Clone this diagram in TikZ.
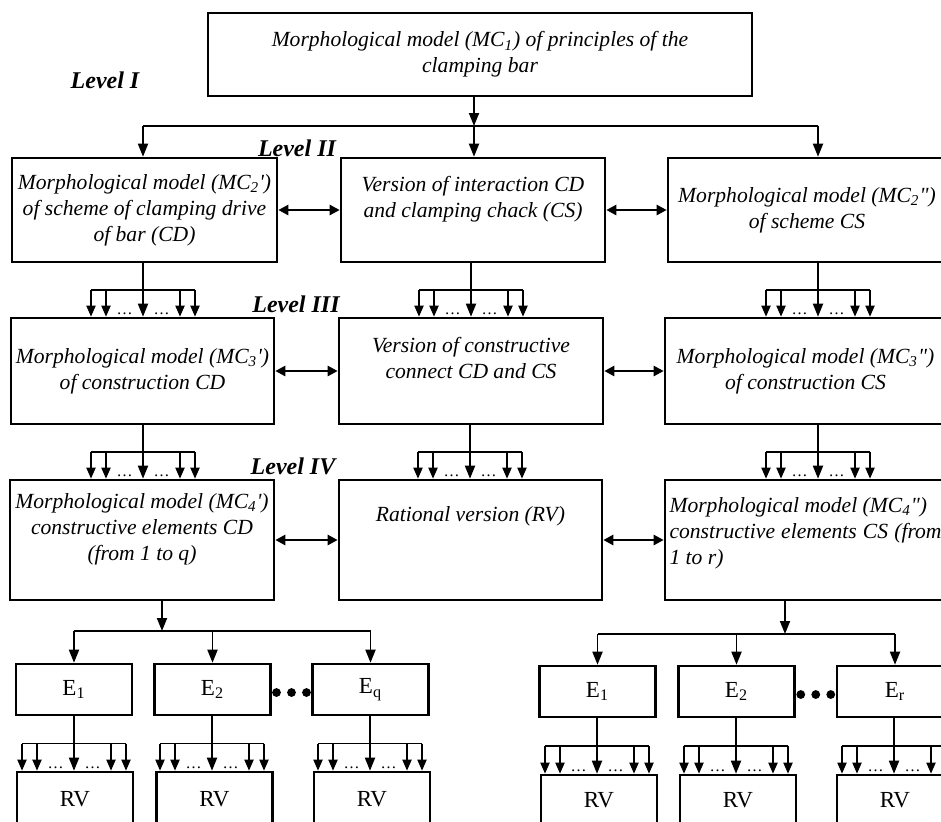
\documentclass[tikz,border=0pt]{standalone}
\usepackage{fontspec}
\setmainfont{Liberation Serif}
\usetikzlibrary{arrows.meta,calc}
\tikzset{
  mdl/.style  ={draw, rectangle, line width=1.3pt, align=center, inner sep=1.5pt, font=\fontsize{10.8}{13}\selectfont\itshape},
  elm/.style  ={draw, rectangle, line width=1.3pt, minimum width=58pt, inner sep=1pt, font=\fontsize{11.5}{13}\selectfont},
  lvl/.style  ={inner sep=0pt, font=\fontsize{12}{14}\selectfont\bfseries\itshape},
  ln/.style   ={line width=0.9pt},
  arr/.style  ={-{Triangle[length=6.5pt,width=5pt]}, line width=0.9pt},
  farr/.style ={-{Triangle[length=5.5pt,width=4.5pt]}, line width=0.9pt},
  dbl/.style  ={{Triangle[length=5pt,width=5pt]}-{Triangle[length=5pt,width=5pt]}, line width=1.2pt},
  dts/.style  ={inner sep=0pt, anchor=south, font=\fontsize{8}{8}\selectfont},
}
\newcommand{\sq}{\textquotesingle}
\newcommand{\dq}{\textquotedbl}

\begin{document}
\begin{tikzpicture}[x=0.5pt, y=-0.5pt]
  \useasboundingbox (0,0) rectangle (941,821);
  \clip (0,0) rectangle (941,821);
  \coordinate (cl) at (143,0);
  \coordinate (cm) at (471,0);
  \coordinate (cr) at (818,0);

  % level I
  \node[mdl, minimum width=272pt, minimum height=41.5pt] (top) at (480,54.5) {Morphological model (MC\textsubscript{1}) of principles of the\\clamping bar};
  \node[lvl] (lv1) at (105,80) {Level I};

  % level II
  \node[mdl, minimum width=132.5pt, minimum height=52pt] (l2l) at (144.5,210) {Morphological model (MC\textsubscript{2}\sq)\\of scheme of clamping drive\\of bar (CD)};
  \node[mdl, minimum width=132pt, minimum height=52pt] (l2m) at (473,210) {Version of interaction CD\\and clamping chack (CS)\\~};
  \node[mdl, minimum width=139pt, minimum height=52pt] (l2r) at (807,210) {Morphological model (MC\textsubscript{2}\dq)\\of scheme CS};
  \node[lvl] (lv2) at (297,148) {Level II};

  % level III
  \node[mdl, minimum width=131.5pt, minimum height=53pt] (l3l) at (142.5,371) {Morphological model (MC\textsubscript{3}\sq)\\of construction CD};
  \node[mdl, minimum width=132pt, minimum height=53pt] (l3m) at (471,371) {Version of constructive\\connect CD and CS\\~};
  \node[mdl, minimum width=140.5pt, minimum height=53pt] (l3r) at (805.5,371) {Morphological model (MC\textsubscript{3}\dq)\\of construction CS};
  \node[lvl] (lv3) at (296,304) {Level III};

  % level IV
  \node[mdl, minimum width=132pt, minimum height=60pt] (l4l) at (142,540) {Morphological model (MC\textsubscript{4}\sq)\\constructive elements CD\\(from 1 to q)\\~};
  \node[mdl, minimum width=131.5pt, minimum height=60pt] (l4m) at (470.5,540) {Rational version (RV)\\~\\~};
  \node[mdl, minimum width=140.5pt, minimum height=60pt, text width=136pt, align=justify] (l4r) at (805.5,540) {\noindent Morphological model (MC\textsubscript{4}\dq)\\constructive elements CS (from\linebreak 1 to r)\\[-4pt]~};
  \node[lvl] (lv4) at (293,466) {Level IV};

  % elements and rational versions
  \node[elm, minimum height=25.5pt] (qe1) at (74,689.5) {E\textsubscript{1}};
  \node[elm, minimum height=25.5pt] (qe2) at (212.5,689.5) {E\textsubscript{2}};
  \node[elm, minimum height=25.5pt] (qeq) at (370.5,689.5) {E\textsubscript{q}};
  \node[elm, minimum height=25.5pt] (re1) at (597.5,691.5) {E\textsubscript{1}};
  \node[elm, minimum height=25.5pt] (re2) at (736.5,691.5) {E\textsubscript{2}};
  \node[elm, minimum height=25.5pt] (rer) at (895,691.5) {E\textsubscript{r}};
  \node[elm, minimum height=27pt] (qv1) at (75,799) {RV};
  \node[elm, minimum height=27pt] (qv2) at (214.5,799) {RV};
  \node[elm, minimum height=27pt] (qv3) at (372,799) {RV};
  \node[elm, minimum height=25.5pt] (rv1) at (599,800.5) {RV};
  \node[elm, minimum height=25.5pt] (rv2) at (738,800.5) {RV};
  \node[elm, minimum height=25.5pt] (rv3) at (895,800.5) {RV};

  % links between levels
  \coordinate (bt) at (474,126);
  \draw[arr] (top.south -| bt) -- (bt);
  \draw[ln] (bt -| cl) -- (bt -| cr);
  \draw[arr] (bt -| cl) -- (cl |- l2l.north);
  \draw[arr] (bt) -- (bt |- l2m.north);
  \draw[arr] (bt -| cr) -- (cr |- l2r.north);

  \foreach \a/\b in {l2l/l2m, l2m/l2r, l3l/l3m, l3m/l3r, l4l/l4m, l4m/l4r}
    \draw[dbl] (\a) -- (\b);

  % fans
  \foreach \a/\b/\x in {l2l/l3l/143, l2m/l3m/471, l2r/l3r/818, l3l/l4l/143, l3m/l4m/470, l3r/l4r/818,
                        qe1/qv1/74, qe2/qv2/212, qeq/qv3/370, re1/rv1/597, re2/rv2/736, rer/rv3/894}{
    \coordinate (p) at (\x,0);
    \coordinate (s) at (p |- \a.south);
    \coordinate (t) at (p |- \b.north);
    \coordinate (j) at ($(s)!0.5!(t)$);
    \draw[arr] (s) -- (t);
    \draw[ln] ([xshift=-26pt]j) -- ([xshift=26pt]j);
    \foreach \d in {-26,-18.5,18.5,26}
      \draw[farr] ([xshift=\d pt]j) -- ([xshift=\d pt]t);
    \node[dts] (dl) at ([xshift=-9.25pt,yshift=0.8pt]t) {\dots};
    \node[dts] (dr) at ([xshift=9.25pt,yshift=0.8pt]t) {\dots};
  }

  % links to elements
  \coordinate (bq) at (162,631);
  \draw[arr] (l4l.south -| bq) -- (bq);
  \draw[ln] (bq -| qe1) -- (bq -| qeq);
  \foreach \e in {qe1,qe2,qeq} \draw[arr] (bq -| \e) -- (\e.north);
  \coordinate (br) at (785,634);
  \draw[arr] (l4r.south -| br) -- (br);
  \draw[ln] (br -| re1) -- (br -| rer);
  \foreach \e in {re1,re2,rer} \draw[arr] (br -| \e) -- (\e.north);

  \coordinate (gq) at ($(qe2.east)!0.5!(qeq.west)$);
  \coordinate (gr) at ($(re2.east)!0.5!(rer.west)$);
  \foreach \s in {-7.5,0,7.5} {
    \fill ([xshift=\s pt, yshift=-1.5pt]gq) circle (2.2pt);
    \fill ([xshift=\s pt, yshift=-1.5pt]gr) circle (2.2pt);
  }
\end{tikzpicture}
\end{document}
